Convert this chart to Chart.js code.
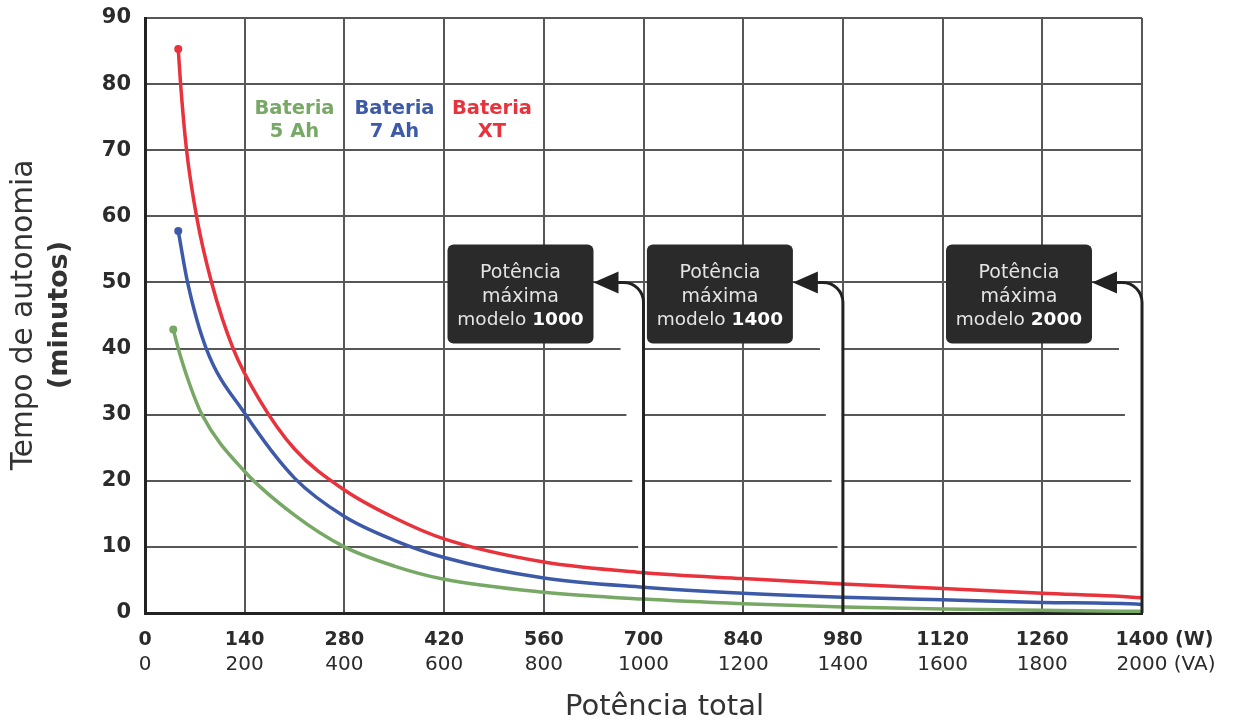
<!DOCTYPE html>
<html><head><meta charset="utf-8">
<script src="https://cdn.jsdelivr.net/npm/chart.js@4"></script>
<style>html,body{margin:0;padding:0;background:#fff}</style>
</head><body>
<canvas id="c" width="1236" height="720"></canvas>
<script>
// ---- data ----
const wTicks = [0,140,280,420,560,700,840,980,1120,1260,1400];
const vaTicks = [0,200,400,600,800,1000,1200,1400,1600,1800,2000];
const yTicks = [0,10,20,30,40,50,60,70,80,90];

const seriesNames = ['Bateria 5 Ah','Bateria 7 Ah','Bateria XT'];
const legendLines = [['Bateria','5 Ah'],['Bateria','7 Ah'],['Bateria','XT']];

const ah5W   = [39.7, 46.7, 60.7, 80, 140, 210, 280, 350, 420, 560, 700, 840, 980, 1120, 1260, 1400, 1415];
const ah5Min = [42.9, 40, 35.2, 30, 21.4, 14.8, 10.0, 7.1, 5.1, 3.15, 2.1, 1.4, 0.9, 0.6, 0.4, 0.25, 0.2];

const ah7W   = [46.7, 59.8, 86, 140, 210, 280, 350, 420, 560, 700, 840, 980, 1120, 1260, 1400, 1415];
const ah7Min = [57.8, 50, 40, 30.2, 20.4, 14.6, 11.0, 8.4, 5.3, 3.9, 3.0, 2.4, 2.0, 1.6, 1.3, 1.1];

const xtW    = [46.7, 50, 58.4, 72.4, 93.5, 123.8, 161, 210, 280, 350, 420, 560, 700, 840, 980, 1120, 1260, 1400, 1415];
const xtMin  = [85.3, 80, 70, 60, 50, 40, 32.2, 24.8, 18.6, 14.4, 11.2, 7.7, 6.1, 5.2, 4.4, 3.7, 3.0, 2.3, 2.1];

const modelPowerW = [700, 980, 1400];
const modelNames  = ['1000','1400','2000'];
const arrowLevel  = 50;

// ---- styles ----
const colors = ['#78a865','#3d5aa8','#e8323c'];
const FONT = '"DejaVu Sans", sans-serif';
const TXT = '#2b2b2b';

const pts = (xs, ys) => xs.map((x,i)=>({x, y: ys[i]}));
const mkDs = (label, data, color) => ({
  label, data, borderColor: color, backgroundColor: color,
  borderWidth: 3.5, showLine: true, cubicInterpolationMode: 'monotone',
  pointRadius: c => c.dataIndex === 0 ? 4 : 0,
  pointHoverRadius: 0, pointBorderWidth: 0, clip: false
});

const decoPlugin = {
  id: 'deco',
  beforeDatasetsDraw(chart) {
    const {ctx} = chart, x = chart.scales.x, y = chart.scales.y;
    ctx.save();
    ctx.fillStyle = '#fff';
    modelPowerW.forEach(w => {
      const lx = x.getPixelForValue(w);
      const gap = v => Math.max(0, 5.3 + (v - 10) * 0.59);
      ctx.beginPath();
      ctx.moveTo(lx - 1, y.getPixelForValue(42));
      ctx.lineTo(lx - gap(42), y.getPixelForValue(42));
      ctx.lineTo(lx - gap(1), y.getPixelForValue(1));
      ctx.lineTo(lx - 1, y.getPixelForValue(1));
      ctx.closePath();
      ctx.fill();
    });
    ctx.restore();
  },
  afterDatasetsDraw(chart) {
    const {ctx} = chart, x = chart.scales.x, y = chart.scales.y;
    ctx.save();
    const ay = y.getPixelForValue(arrowLevel);
    const bottom = y.getPixelForValue(0);
    modelPowerW.forEach((w, i) => {
      const lx = x.getPixelForValue(w);
      const r = 20;
      ctx.strokeStyle = '#222'; ctx.lineWidth = 3;
      ctx.beginPath();
      ctx.moveTo(lx, bottom);
      ctx.lineTo(lx, ay + r);
      ctx.arcTo(lx, ay, lx - r, ay, r);
      ctx.lineTo(lx - 26, ay);
      ctx.stroke();
      ctx.fillStyle = '#222';
      ctx.beginPath();
      ctx.moveTo(lx - 50, ay);
      ctx.lineTo(lx - 25, ay - 11);
      ctx.lineTo(lx - 25, ay + 11);
      ctx.closePath(); ctx.fill();
      const right = lx - 50, left = right - 146, top = ay - 38, bot = ay + 61;
      ctx.fillStyle = '#2a2a2a';
      ctx.beginPath();
      ctx.roundRect(left, top, right - left, bot - top, 6);
      ctx.fill();
      const cx = (left + right) / 2;
      ctx.fillStyle = '#e4e4e4';
      ctx.textAlign = 'center'; ctx.textBaseline = 'alphabetic';
      ctx.font = '19px ' + FONT;
      ctx.fillText('Potência', cx, ay - 4);
      ctx.fillText('máxima', cx, ay + 19.5);
      const a = 'modelo ', b = modelNames[i];
      ctx.font = '18.5px ' + FONT;
      const wa = ctx.measureText(a).width;
      ctx.font = 'bold 18.5px ' + FONT;
      const wb = ctx.measureText(b).width;
      const sx = cx - (wa + wb) / 2;
      ctx.textAlign = 'left';
      ctx.font = '18.5px ' + FONT;
      ctx.fillText(a, sx, ay + 42.5);
      ctx.fillStyle = '#fff';
      ctx.font = 'bold 18.5px ' + FONT;
      ctx.fillText(b, sx + wa, ay + 42.5);
    });
    const lx0 = [294.5, 394.5, 492];
    ctx.textAlign = 'center'; ctx.textBaseline = 'alphabetic';
    ctx.font = 'bold 19.5px ' + FONT;
    legendLines.forEach((ln, i) => {
      ctx.fillStyle = colors[i];
      ctx.fillText(ln[0], lx0[i], 114);
      ctx.fillText(ln[1], lx0[i], 137);
    });
    ctx.restore();
  },
  afterDraw(chart) {
    const {ctx} = chart, x = chart.scales.x, x2 = chart.scales.x2;
    ctx.save();
    ctx.fillStyle = TXT; ctx.textAlign = 'left'; ctx.textBaseline = 'middle';
    const px = x.getPixelForValue(1400);
    ctx.font = 'bold 19px ' + FONT;
    let w = ctx.measureText('1400').width;
    ctx.fillText(' (W)', px + w / 2, x.top + 16 + 11.4);
    const px2 = x2.getPixelForValue(2000);
    ctx.font = '20px ' + FONT;
    w = ctx.measureText('2000').width;
    ctx.fillText(' (VA)', px2 + w / 2, x2.top + 4 + 12);
    ctx.fillStyle = '#333';
    ctx.textAlign = 'center'; ctx.textBaseline = 'alphabetic';
    ctx.font = '29px ' + FONT;
    ctx.fillText('Potência total', 664.5, 715);
    ctx.translate(32, 315); ctx.rotate(-Math.PI / 2);
    ctx.font = '29.5px ' + FONT;
    ctx.fillText('Tempo de autonomia', 0, 0);
    ctx.font = 'bold 27px ' + FONT;
    ctx.fillText('(minutos)', 0, 35);
    ctx.restore();
  }
};

new Chart(document.getElementById('c'), {
  type: 'scatter',
  data: { datasets: [
    mkDs(seriesNames[0], pts(ah5W, ah5Min), colors[0]),
    mkDs(seriesNames[1], pts(ah7W, ah7Min), colors[1]),
    mkDs(seriesNames[2], pts(xtW, xtMin), colors[2])
  ]},
  options: {
    responsive: false, animation: false, devicePixelRatio: 1,
    layout: { padding: { top: 18, right: 94, left: 0, bottom: 0 } },
    plugins: { legend: { display: false }, tooltip: { enabled: false } },
    scales: {
      x: {
        type: 'linear', position: 'bottom', min: 0, max: 1400,
        afterBuildTicks: s => { s.ticks = wTicks.map(v => ({value: v})); },
        afterFit: s => { s.height = 36; s.paddingLeft = 0; s.paddingRight = 0; },
        ticks: { color: TXT, font: { family: FONT, size: 19, weight: 'bold' }, padding: 16, maxRotation: 0, autoSkip: false, callback: v => String(v) },
        grid: { color: '#575757', lineWidth: 2, drawTicks: false },
        border: { color: '#222', width: 3 }
      },
      x2: {
        type: 'linear', position: 'bottom', min: 0, max: 2000,
        afterBuildTicks: s => { s.ticks = vaTicks.map(v => ({value: v})); },
        afterFit: s => { s.height = 71; s.paddingLeft = 0; s.paddingRight = 0; },
        ticks: { color: TXT, font: { family: FONT, size: 20 }, padding: 4, maxRotation: 0, autoSkip: false, callback: v => String(v) },
        grid: { display: false, drawTicks: false },
        border: { display: false }
      },
      y: {
        type: 'linear', min: 0, max: 90,
        afterBuildTicks: s => { s.ticks = yTicks.map(v => ({value: v})); },
        afterFit: s => { s.width = 145; s.paddingTop = 0; s.paddingBottom = 0; },
        ticks: { color: TXT, font: { family: FONT, size: 21, weight: 'bold' }, padding: 14, callback: v => String(v) },
        grid: { color: '#575757', lineWidth: 2, drawTicks: false },
        border: { color: '#222', width: 3 }
      }
    }
  },
  plugins: [decoPlugin]
});
</script>
</body></html>
